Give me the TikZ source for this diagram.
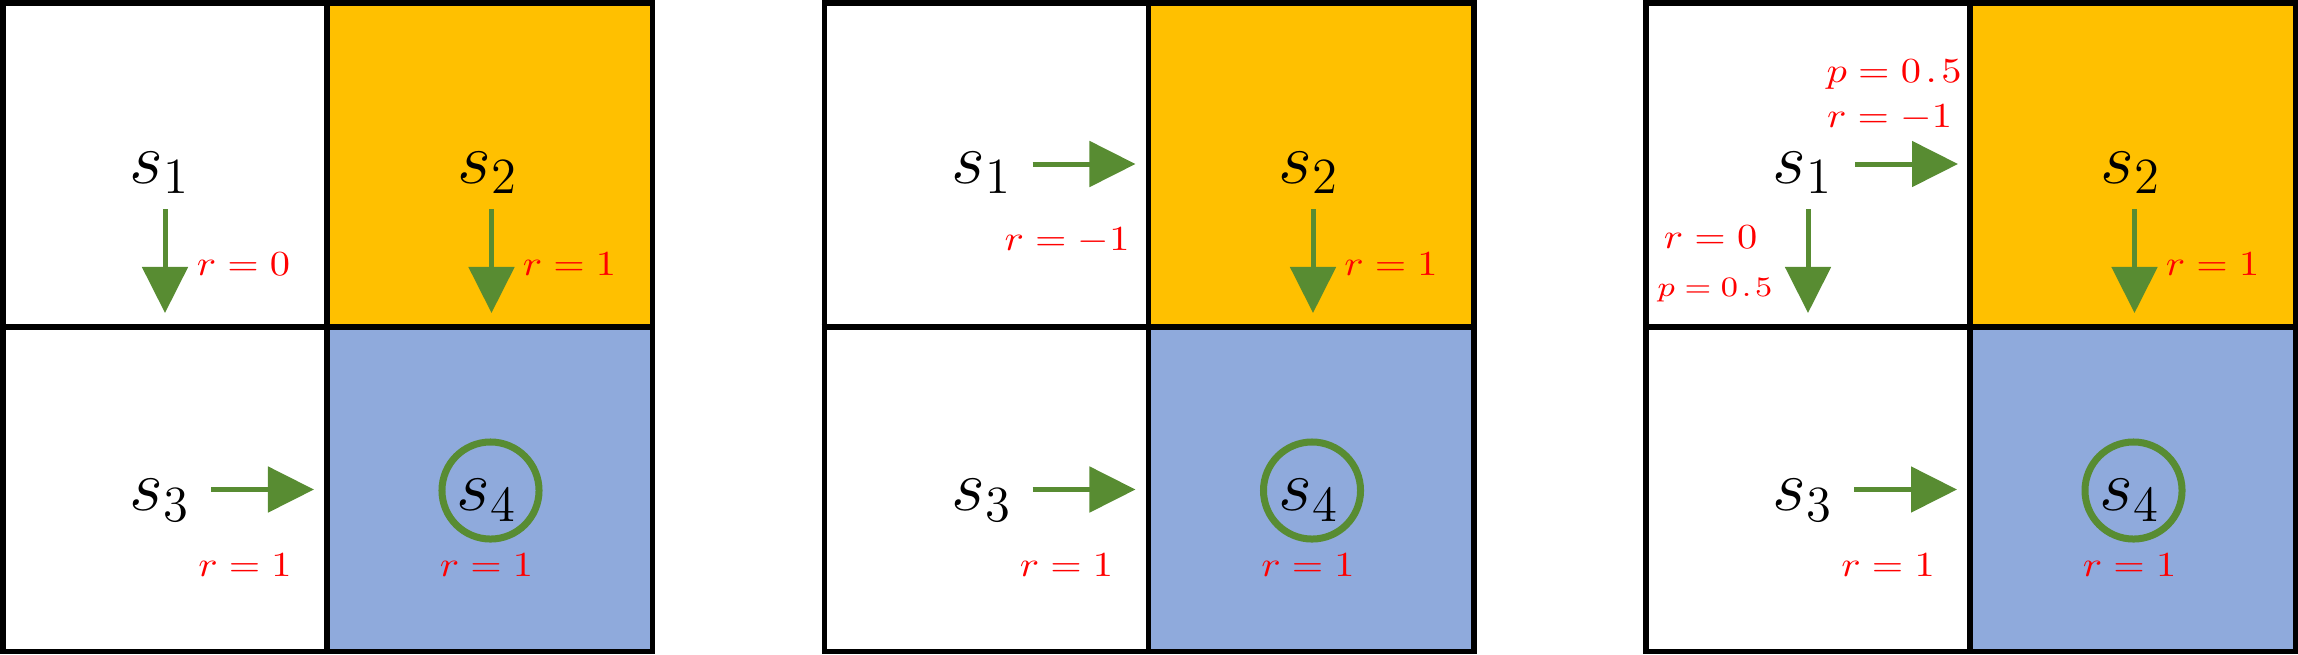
\documentclass[tikz,border=0pt]{standalone}
\usetikzlibrary{arrows.meta}
\definecolor{gold}{RGB}{255,192,0}
\definecolor{sky}{RGB}{143,170,220}
\definecolor{leaf}{RGB}{88,140,50}
\newcommand\redlab[1]{\scalebox{1.15}[1]{$#1$}}
\tikzset{
  gridline/.style={line width=0.055cm, draw=black},
  state/.style={font=\fontsize{20}{24}\selectfont, inner sep=0pt, anchor=base},
  rlab/.style={text=red, font=\fontsize{10}{12}\selectfont, inner sep=0pt, anchor=base},
  plab/.style={text=red, font=\fontsize{8.3}{10}\selectfont, inner sep=0pt, anchor=base},
  move/.style={draw=leaf, line width=0.05cm, -{Triangle[length=0.46cm,width=0.45cm]}},
  goal/.style={draw=leaf, line width=0.07cm, circle, minimum size=0.97cm, inner sep=0pt}
}
\begin{document}
\begin{tikzpicture}[x=0.01cm, y=-0.01cm]
\useasboundingbox (0,0) rectangle (2298,654);
\foreach \g/\ox in {a/0, b/821.5, c/1643} {
  \begin{scope}[shift={(\ox,0)}]
    \fill[gold] (327.5,0) rectangle (655,327.5);
    \fill[sky] (327.5,327.5) rectangle (655,654);
    \draw[gridline] (2.75,2.75) rectangle (652.25,651.25);
    \draw[gridline] (327,0) -- (327,654) (0,327) -- (655,327);
    % states
    \node[state] (\g-s1) at (160,183) {$s_1$};
    \node[state] (\g-s2) at (487.5,183) {$s_2$};
    \node[state] (\g-s3) at (160,510.5) {$s_3$};
    \node[goal] (\g-goal) at (490.5,490.5) {};
    \node[state] (\g-s4) at (487,510.5) {$s_4$};
    % s2 down
    \coordinate (\g-d2a) at (491.5,209);
    \coordinate (\g-d2b) at (491.5,313);
    \draw[move] (\g-d2a) -- (\g-d2b);
    \node[rlab] (\g-r2) at (569.5,275) {\redlab{r=1}};
    % s3 right
    \coordinate (\g-r3a) at (211,489.5);
    \coordinate (\g-r3b) at (314,489.5);
    \draw[move] (\g-r3a) -- (\g-r3b);
    \node[rlab] (\g-r3) at (245,576.5) {\redlab{r=1}};
    \node[rlab] (\g-r4) at (486.5,576.5) {\redlab{r=1}};
  \end{scope}
}
% grid a: s1 down
\begin{scope}[shift={(0,0)}]
  \coordinate (a-d1a) at (165,209);
  \coordinate (a-d1b) at (165,313);
  \draw[move] (a-d1a) -- (a-d1b);
  \node[rlab] (a-r1) at (243.5,275) {\redlab{r=0}};
\end{scope}
% grid b: s1 right
\begin{scope}[shift={(821.5,0)}]
  \coordinate (b-h1a) at (211,164);
  \coordinate (b-h1b) at (314,164);
  \draw[move] (b-h1a) -- (b-h1b);
  \node[rlab] (b-r1) at (245.5,250) {\redlab{r=-1}};
\end{scope}
% grid c: both
\begin{scope}[shift={(1643,0)}]
  \coordinate (c-h1a) at (212,164);
  \coordinate (c-h1b) at (315,164);
  \draw[move] (c-h1a) -- (c-h1b);
  \coordinate (c-d1a) at (165,209);
  \coordinate (c-d1b) at (165,313);
  \draw[move] (c-d1a) -- (c-d1b);
  \node[rlab] (c-p1) at (251,82) {\redlab{p=0\mkern2mu.\mkern2mu5}};
  \node[rlab] (c-r1) at (246.5,127) {\redlab{r=-1}};
  \node[rlab] (c-r0) at (67.5,248) {\redlab{r=0}};
  \node[plab] (c-p0) at (72,296) {\redlab{p=0\mkern2mu.\mkern2mu5}};
\end{scope}
\end{tikzpicture}
\end{document}
